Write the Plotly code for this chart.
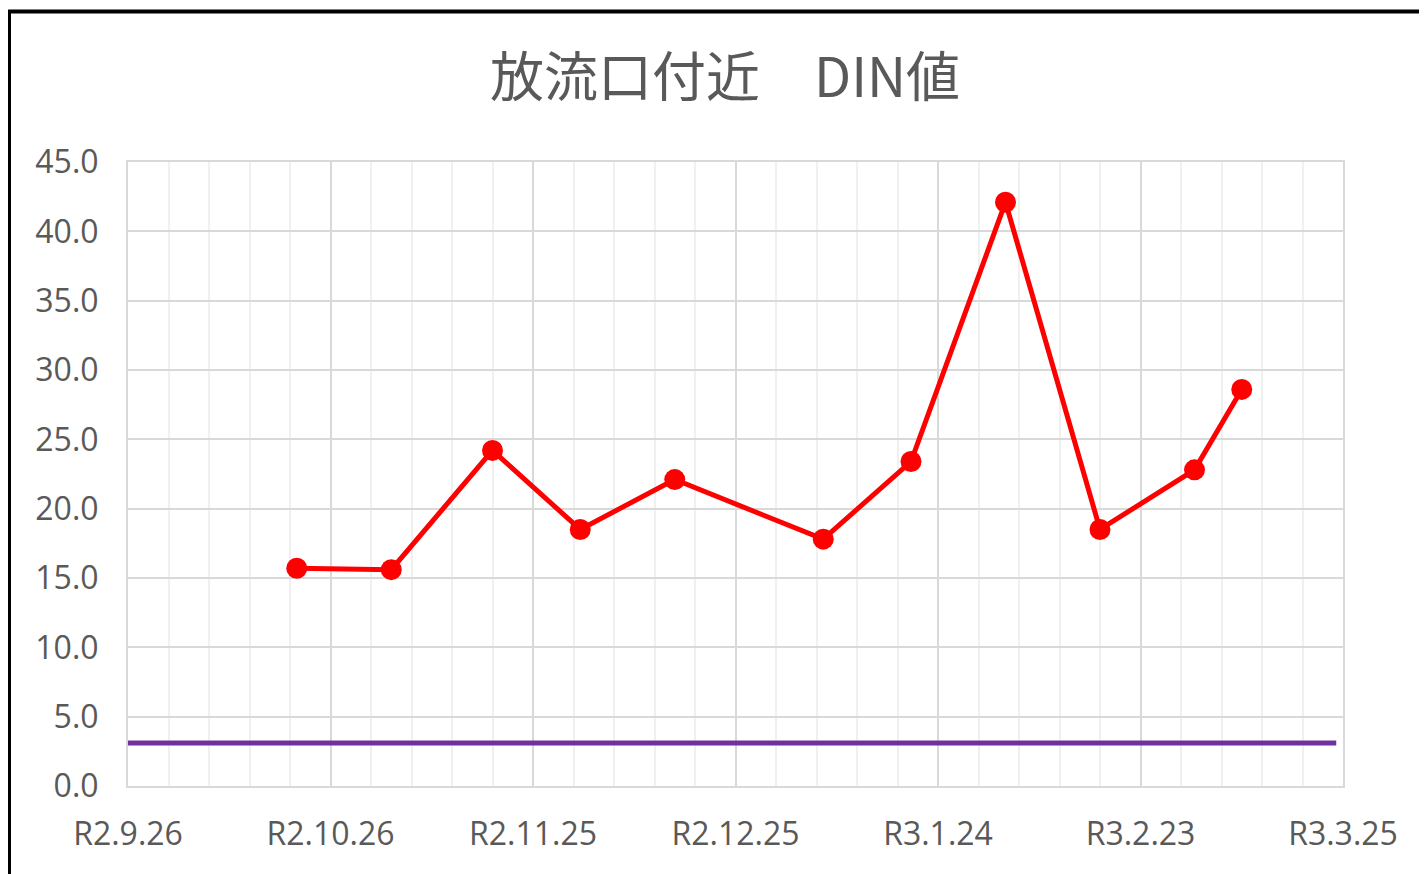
import plotly.graph_objects as go

# Data
dates = ["2020-10-21", "2020-11-04", "2020-11-19", "2020-12-02", "2020-12-16",
         "2021-01-07", "2021-01-20", "2021-02-03", "2021-02-17", "2021-03-03", "2021-03-10"]
din_values = [15.7, 15.6, 24.2, 18.5, 22.1, 17.8, 23.4, 42.1, 18.5, 22.8, 28.6]

ref_dates = ["2020-09-26", "2021-03-24"]
ref_values = [3.1, 3.1]

tick_dates = ["2020-09-26", "2020-10-26", "2020-11-25", "2020-12-25",
              "2021-01-24", "2021-02-23", "2021-03-25"]
tick_labels = ["R2.9.26", "R2.10.26", "R2.11.25", "R2.12.25", "R3.1.24", "R3.2.23", "R3.3.25"]

y_ticks = [0, 5, 10, 15, 20, 25, 30, 35, 40, 45]
y_labels = ["%.1f" % v for v in y_ticks]

title_text = "放流口付近　DIN値"

OFF = 8  # page body margin
W, H = 1427 - OFF, 874 - OFF
L, R, T, B = 128 - OFF, 84, 162 - OFF, 88

fig = go.Figure()
fig.add_trace(go.Scatter(x=ref_dates, y=ref_values, mode="lines",
                         line=dict(color="#7030A0", width=5), showlegend=False,
                         hoverinfo="skip"))
fig.add_trace(go.Scatter(x=dates, y=din_values, mode="lines+markers",
                         line=dict(color="#FF0000", width=5),
                         marker=dict(color="#FF0000", size=21), showlegend=False))

pw = W - L - R
ph = H - T - B
def px(xp):
    return (xp - OFF - L) / pw
def py(yp):
    return (H - B - (yp - OFF)) / ph

fig.update_layout(
    width=W, height=H,
    margin=dict(l=L, r=R, t=T, b=B, autoexpand=False),
    paper_bgcolor="white", plot_bgcolor="white",
    title=dict(text=title_text, x=px(725), xanchor="center", xref="paper",
               y=1 - (78 - OFF) / H, yanchor="middle",
               font=dict(family="Noto Sans CJK JP", size=54, color="#595959")),
    font=dict(family="Open Sans", color="#595959"),
    xaxis=dict(
        type="date",
        range=["2020-09-26", "2021-03-25"],
        tickmode="array", tickvals=tick_dates, ticktext=tick_labels,
        tickfont=dict(size=32, color="#595959"),
        showgrid=True, gridcolor="#D9D9D9", gridwidth=1.5,
        minor=dict(showgrid=True, gridcolor="#F0F0F0", gridwidth=1.5,
                   tick0="2020-09-26", dtick=6 * 86400000),
        showline=True, linecolor="#D9D9D9", linewidth=2, mirror=True,
        ticks="", ticklabelstandoff=19, zeroline=False,
    ),
    yaxis=dict(
        range=[0, 45],
        tickmode="array", tickvals=y_ticks, ticktext=y_labels,
        tickfont=dict(size=32, color="#595959"),
        showgrid=True, gridcolor="#D9D9D9", gridwidth=1.5,
        showline=True, linecolor="#D9D9D9", linewidth=2, mirror=True,
        ticks="", ticklabelstandoff=21, zeroline=False,
    ),
    shapes=[
        dict(type="rect", xref="paper", yref="paper",
             x0=px(9), x1=px(1445), y0=py(890), y1=py(11.5),
             line=dict(color="black", width=4), fillcolor="rgba(0,0,0,0)", layer="above"),
    ],
)

fig.write_html("out.html")
